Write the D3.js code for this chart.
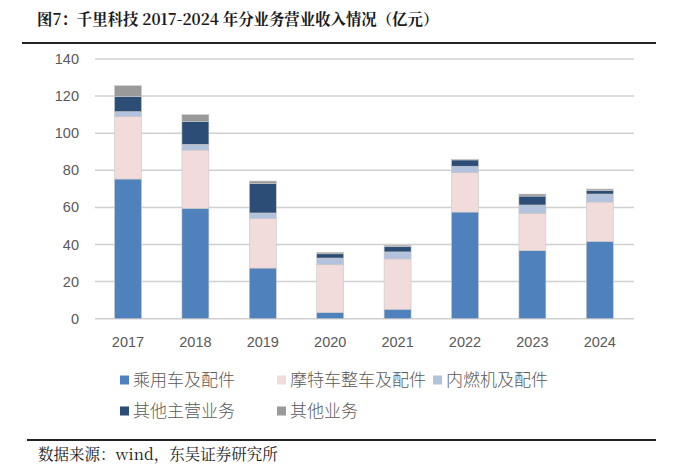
<!DOCTYPE html>
<html><head><meta charset="utf-8">
<script src="https://cdn.jsdelivr.net/npm/d3@7/dist/d3.min.js"></script>
<style>body{margin:0;background:#fff;}svg{display:block;}</style>
</head><body>
<script>
const years = ["2017","2018","2019","2020","2021","2022","2023","2024"];
const seriesNames = ["乘用车及配件","摩特车整车及配件","内燃机及配件","其他主营业务","其他业务"];
const passengerCar = [75.3, 59.5, 27.3, 3.4, 5.1, 57.5, 36.7, 41.7];
const motorcycle   = [33.6, 31.4, 26.6, 25.7, 27.1, 21.2, 20.1, 21.2];
const engine       = [2.7, 3.1, 3.1, 3.6, 3.8, 3.5, 4.5, 4.3];
const otherMain    = [8.1, 12.4, 15.8, 2.3, 2.8, 3.4, 4.8, 2.0];
const otherBiz     = [5.9, 3.6, 1.4, 0.8, 0.8, 0.3, 1.1, 0.7];
const yTicks = [0,20,40,60,80,100,120,140];
const colors = ["#4F81BD","#F2DCDB","#B3C3DE","#2C4D75","#9A9A9A"];

const W = 673, H = 469;
const svg = d3.select("body").append("svg").attr("width", W).attr("height", H);

// Title
svg.append("text").attr("x", 37).attr("y", 25)
  .attr("font-family", "'Noto Serif CJK SC','Noto Sans CJK SC',serif")
  .attr("font-size", 15.4).attr("font-weight", "bold").attr("fill", "#1a1a1a")
  .text("图7：千里科技 2017-2024 年分业务营业收入情况（亿元）");
svg.append("line").attr("x1", 22).attr("x2", 656).attr("y1", 43).attr("y2", 43)
  .attr("stroke", "#222").attr("stroke-width", 2);

// Source
svg.append("line").attr("x1", 27).attr("x2", 656).attr("y1", 440).attr("y2", 440)
  .attr("stroke", "#222").attr("stroke-width", 2);
svg.append("text").attr("x", 38).attr("y", 460)
  .attr("font-family", "'Noto Serif CJK SC','Noto Sans CJK SC',serif")
  .attr("font-size", 15.5).attr("fill", "#1a1a1a")
  .text("数据来源：wind，东吴证券研究所");

const x = d3.scaleBand().domain(years).range([94.3, 633.5]).paddingInner(0.6).paddingOuter(0.3);
const y = d3.scaleLinear().domain([0, 140]).range([318.7, 59.0]);

// grid
svg.append("g").selectAll("line").data(yTicks).join("line")
  .attr("x1", 95).attr("x2", 634)
  .attr("y1", d => y(d)).attr("y2", d => y(d))
  .attr("stroke", "#d0d0d0").attr("stroke-width", 1.5);

// y labels
svg.append("g").selectAll("text").data(yTicks).join("text")
  .attr("x", 79).attr("y", d => y(d)).attr("dy", "0.35em")
  .attr("text-anchor", "end")
  .attr("font-family", "'Liberation Sans',Arial,sans-serif").attr("font-size", 14.5)
  .attr("fill", "#595959").text(d => d);

// x labels
svg.append("g").selectAll("text").data(years).join("text")
  .attr("x", d => x(d) + x.bandwidth()/2).attr("y", 347)
  .attr("text-anchor", "middle")
  .attr("font-family", "'Liberation Sans',Arial,sans-serif").attr("font-size", 14.5)
  .attr("fill", "#595959").text(d => d);

// data table
const table = years.map((yr, i) => ({
  year: yr, s0: passengerCar[i], s1: motorcycle[i], s2: engine[i], s3: otherMain[i], s4: otherBiz[i]
}));
const stack = d3.stack().keys(["s0","s1","s2","s3","s4"])(table);

svg.append("g").selectAll("g").data(stack).join("g")
  .attr("fill", (d, i) => colors[i])
  .selectAll("rect").data(d => d).join("rect")
  .attr("x", d => x(d.data.year))
  .attr("width", x.bandwidth())
  .attr("y", d => y(d[1]))
  .attr("height", d => y(d[0]) - y(d[1]))
  .attr("stroke", "#c8c8c8").attr("stroke-width", 0.6);

// legend
const legendPos = [[120, 380],[277, 380],[433, 380],[120, 411],[277, 411]];
const lg = svg.append("g").selectAll("g").data(seriesNames).join("g")
  .attr("transform", (d, i) => `translate(${legendPos[i][0]},${legendPos[i][1]})`);
lg.append("rect").attr("x", 0).attr("y", -4.5).attr("width", 9).attr("height", 9)
  .attr("fill", (d, i) => colors[i]);
lg.append("text").attr("x", 13).attr("y", 0).attr("dy", "0.36em")
  .attr("font-family", "'Noto Sans CJK SC',sans-serif").attr("font-size", 17).attr("font-weight", 300)
  .attr("fill", "#595959").text(d => d);
</script>
</body></html>
